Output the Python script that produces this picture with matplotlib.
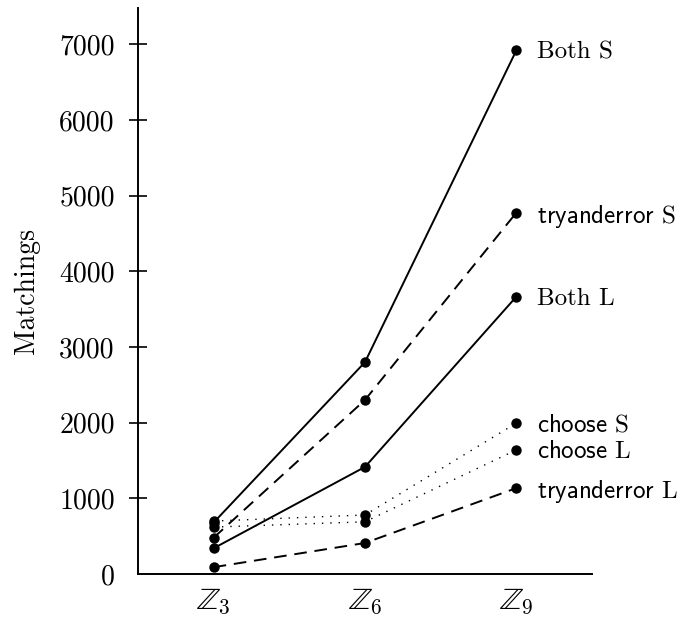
import matplotlib
matplotlib.use('Agg')
import matplotlib.pyplot as plt

plt.rcParams['font.family'] = 'serif'
plt.rcParams['font.serif'] = ['cmr10']
plt.rcParams['mathtext.fontset'] = 'cm'
plt.rcParams['axes.formatter.use_mathtext'] = True

# Data
groups = [3, 6, 9]
groupLabels = [r'$\mathbb{Z}_3$', r'$\mathbb{Z}_6$', r'$\mathbb{Z}_9$']

bothS        = [680, 2800, 6920]
tryS         = [480, 2300, 4775]
bothL        = [340, 1415, 3665]
chooseS      = [700, 780, 1995]
chooseL      = [620, 690, 1640]
tryL         = [90, 410, 1135]

series = [
    (bothS,   r'Both S',                      '-'),
    (tryS,    r'$\mathsf{tryanderror}$ S',    (0, (6.5, 4))),
    (bothL,   r'Both L',                      '-'),
    (chooseS, r'$\mathsf{choose}$ S',         (0, (1, 5))),
    (chooseL, r'$\mathsf{choose}$ L',         (0, (1, 5))),
    (tryL,    r'$\mathsf{tryanderror}$ L',    (0, (6.5, 4))),
]

fig = plt.figure(figsize=(6.81, 6.19), dpi=100)
ax = fig.add_axes([0.2026, 0.0727, 0.6667, 0.9143])

for values, label, style in series:
    lw = 1.0 if style == (0, (1, 5)) else 1.4
    ax.plot(groups, values, color='black', linestyle=style, linewidth=lw,
            marker='o', markersize=6.5, markerfacecolor='black',
            markeredgecolor='black')
    ax.annotate(label, (groups[-1], values[-1]), xytext=(15, 0),
                textcoords='offset points', va='center_baseline',
                ha='left', fontsize=18)

ax.set_xlim(1.5, 10.5)
ax.set_ylim(0, 7480)
ax.set_xticks(groups)
ax.set_xticklabels(groupLabels)
ax.set_yticks(range(0, 8000, 1000))
ax.set_yticklabels([str(v) for v in range(0, 8000, 1000)])

ax.spines['top'].set_visible(False)
ax.spines['right'].set_visible(False)
ax.spines['left'].set_linewidth(1.4)
ax.spines['bottom'].set_linewidth(1.4)

ax.tick_params(axis='x', length=0, pad=9, labelsize=22)
ax.tick_params(axis='y', direction='inout', length=13.5, width=1.2,
               pad=10, labelsize=20)
ax.yaxis.get_major_ticks()[0].tick1line.set_visible(False)

ax.set_ylabel('Matchings', fontsize=20, labelpad=14)

plt.savefig('out.png', dpi=100)
